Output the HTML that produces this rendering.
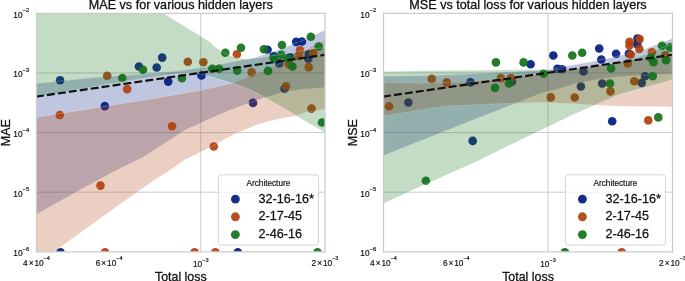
<!DOCTYPE html>
<html><head><meta charset="utf-8"><style>
html,body{margin:0;padding:0;background:#fff;}
svg{display:block;will-change:transform;}
text{font-family:"Liberation Sans",sans-serif;stroke:#111;stroke-width:0.28px;}
.sm,.sm text{stroke-width:0.18px;}
</style></head><body>
<svg width="685" height="281" viewBox="0 0 685 281" font-family="Liberation Sans, sans-serif" fill="#111111">
<rect width="685" height="281" fill="#ffffff"/>
<clipPath id="cl"><rect x="36.5" y="13.3" width="288.5" height="238.5"/></clipPath>
<g stroke="#cccccc" stroke-width="1"><line x1="36.5" x2="325.0" y1="72.92" y2="72.92"/><line x1="36.5" x2="325.0" y1="132.55" y2="132.55"/><line x1="36.5" x2="325.0" y1="192.18" y2="192.18"/><line x1="200.75" x2="200.75" y1="13.3" y2="251.8"/></g>
<g clip-path="url(#cl)">
<g fill="rgb(0,28,127)" fill-opacity="0.92"><circle cx="60.1" cy="80.2" r="4.3"/><circle cx="138.9" cy="66.5" r="4.3"/><circle cx="156.7" cy="67.5" r="4.3"/><circle cx="162.2" cy="57.6" r="4.3"/><circle cx="168.2" cy="81.6" r="4.3"/><circle cx="201.5" cy="75.5" r="4.3"/><circle cx="104.8" cy="106.1" r="4.3"/><circle cx="253.0" cy="102.9" r="4.3"/><circle cx="284.6" cy="88.7" r="4.3"/><circle cx="267.6" cy="49.7" r="4.3"/><circle cx="273.8" cy="56.2" r="4.3"/><circle cx="279.2" cy="63.4" r="4.3"/><circle cx="290.0" cy="57.4" r="4.3"/><circle cx="296.2" cy="41.9" r="4.3"/><circle cx="301.9" cy="41.5" r="4.3"/><circle cx="308.7" cy="54.3" r="4.3"/><circle cx="308.3" cy="58.7" r="4.3"/><circle cx="60.5" cy="252.4" r="4.3"/><circle cx="237.8" cy="252.4" r="4.3"/></g>
<polygon points="30.5,84.0 36.5,83.4 95.0,77.6 127.0,75.3 155.0,73.1 180.0,70.8 210.0,66.5 230.0,62.5 255.0,57.5 275.0,51.0 294.0,43.8 305.0,39.6 325.0,30.0 331.0,27.1 331.0,86.9 325.0,87.4 305.0,89.0 286.0,91.6 264.7,97.4 227.3,111.0 184.9,130.0 165.0,143.0 142.2,157.4 112.3,172.3 79.9,190.0 36.5,214.3 30.5,217.7" fill="rgb(0,28,127)" stroke="#ffffff" stroke-width="1.00" stroke-linejoin="round" fill-opacity="0.250" stroke-opacity="0.250"/>
<g fill="rgb(177,64,13)" fill-opacity="0.92"><circle cx="59.8" cy="115.0" r="4.3"/><circle cx="107.2" cy="75.7" r="4.3"/><circle cx="127.2" cy="89.1" r="4.3"/><circle cx="187.8" cy="61.7" r="4.3"/><circle cx="203.4" cy="62.2" r="4.3"/><circle cx="236.9" cy="54.2" r="4.3"/><circle cx="251.6" cy="72.4" r="4.3"/><circle cx="300.0" cy="50.2" r="4.3"/><circle cx="288.8" cy="64.3" r="4.3"/><circle cx="298.7" cy="55.9" r="4.3"/><circle cx="313.1" cy="53.4" r="4.3"/><circle cx="308.7" cy="67.1" r="4.3"/><circle cx="172.1" cy="126.2" r="4.3"/><circle cx="100.5" cy="185.6" r="4.3"/><circle cx="213.8" cy="146.5" r="4.3"/><circle cx="285.9" cy="86.2" r="4.3"/><circle cx="311.5" cy="108.6" r="4.3"/><circle cx="105.1" cy="252.4" r="4.3"/><circle cx="194.6" cy="252.4" r="4.3"/><circle cx="215.3" cy="252.4" r="4.3"/></g>
<polygon points="30.0,118.1 36.0,117.2 84.0,109.7 150.0,99.0 200.0,90.5 231.9,83.1 265.0,70.0 290.0,59.0 313.5,45.0 324.4,40.0 330.4,37.2 330.4,107.8 324.4,109.0 319.5,110.0 304.6,112.5 294.6,116.2 279.6,118.7 259.7,123.7 234.8,133.7 209.9,147.4 184.5,159.9 167.1,172.3 154.3,180.0 100.0,218.5 54.3,251.6 36.0,265.0 30.0,269.4" fill="rgb(177,64,13)" stroke="#ffffff" stroke-width="1.00" stroke-linejoin="round" fill-opacity="0.250" stroke-opacity="0.250"/>
<g fill="rgb(18,113,28)" fill-opacity="0.92"><circle cx="122.3" cy="78.0" r="4.3"/><circle cx="143.0" cy="69.8" r="4.3"/><circle cx="181.9" cy="78.2" r="4.3"/><circle cx="212.3" cy="68.8" r="4.3"/><circle cx="219.0" cy="68.8" r="4.3"/><circle cx="225.3" cy="52.8" r="4.3"/><circle cx="241.0" cy="47.8" r="4.3"/><circle cx="237.2" cy="70.6" r="4.3"/><circle cx="263.9" cy="49.3" r="4.3"/><circle cx="281.9" cy="45.0" r="4.3"/><circle cx="310.8" cy="36.8" r="4.3"/><circle cx="318.7" cy="46.5" r="4.3"/><circle cx="273.8" cy="58.1" r="4.3"/><circle cx="281.3" cy="54.9" r="4.3"/><circle cx="288.2" cy="58.7" r="4.3"/><circle cx="292.5" cy="66.5" r="4.3"/><circle cx="268.0" cy="70.9" r="4.3"/><circle cx="322.0" cy="122.5" r="4.3"/><circle cx="317.5" cy="252.4" r="4.3"/></g>
<polygon points="30.5,-84.4 36.5,-80.0 163.0,13.0 200.3,35.9 210.0,42.2 216.4,48.0 226.0,53.9 236.7,58.1 247.4,59.2 260.0,57.6 290.0,53.0 313.5,48.5 325.0,47.8 331.0,47.4 331.0,135.8 325.0,132.4 305.0,121.0 287.1,110.0 264.7,97.4 250.0,89.4 231.9,83.1 210.0,76.4 200.0,73.8 190.0,72.8 175.0,74.3 150.0,77.4 100.0,85.4 45.0,96.0 36.5,96.3 30.5,96.5" fill="rgb(18,113,28)" stroke="#ffffff" stroke-width="1.00" stroke-linejoin="round" fill-opacity="0.250" stroke-opacity="0.250"/>
<line x1="36.0" y1="96.67" x2="325.0" y2="54.80" stroke="#111111" stroke-width="2.2" stroke-dasharray="7.95 3.1" />
</g>
<g stroke="#cccccc" stroke-width="1.25" stroke-linecap="square"><line x1="36.50" y1="13.30" x2="325.00" y2="13.30"/><line x1="36.50" y1="251.80" x2="325.00" y2="251.80"/><line x1="36.50" y1="13.30" x2="36.50" y2="251.80"/><line x1="325.00" y1="13.30" x2="325.00" y2="251.80"/></g>
<clipPath id="cr"><rect x="383.5" y="13.3" width="289.0" height="238.5"/></clipPath>
<g stroke="#cccccc" stroke-width="1"><line x1="383.5" x2="672.5" y1="72.92" y2="72.92"/><line x1="383.5" x2="672.5" y1="132.55" y2="132.55"/><line x1="383.5" x2="672.5" y1="192.18" y2="192.18"/><line x1="548.03" x2="548.03" y1="13.3" y2="251.8"/></g>
<g clip-path="url(#cr)">
<g fill="rgb(0,28,127)" fill-opacity="0.92"><circle cx="408.4" cy="102.5" r="4.3"/><circle cx="470.5" cy="82.4" r="4.3"/><circle cx="511.9" cy="81.6" r="4.3"/><circle cx="530.6" cy="64.2" r="4.3"/><circle cx="553.3" cy="55.5" r="4.3"/><circle cx="557.4" cy="68.8" r="4.3"/><circle cx="562.2" cy="69.3" r="4.3"/><circle cx="583.5" cy="71.4" r="4.3"/><circle cx="580.9" cy="86.5" r="4.3"/><circle cx="599.2" cy="48.5" r="4.3"/><circle cx="601.3" cy="59.5" r="4.3"/><circle cx="602.2" cy="83.5" r="4.3"/><circle cx="616.1" cy="53.8" r="4.3"/><circle cx="628.9" cy="53.5" r="4.3"/><circle cx="637.5" cy="38.6" r="4.3"/><circle cx="637.2" cy="44.2" r="4.3"/><circle cx="641.7" cy="82.9" r="4.3"/><circle cx="645.1" cy="76.2" r="4.3"/><circle cx="472.7" cy="140.9" r="4.3"/><circle cx="612.2" cy="121.2" r="4.3"/></g>
<polygon points="377.5,76.4 383.5,76.3 420.0,75.8 460.0,74.6 500.0,72.3 530.0,71.0 548.0,70.2 563.0,66.7 590.0,62.0 615.0,56.9 645.0,49.0 672.5,38.4 678.5,36.1 678.0,73.4 672.0,73.7 620.0,76.6 593.3,80.1 575.6,83.7 557.8,89.0 540.0,93.4 517.6,102.4 472.7,120.0 383.5,155.6 377.5,158.0" fill="rgb(0,28,127)" stroke="#ffffff" stroke-width="1.00" stroke-linejoin="round" fill-opacity="0.250" stroke-opacity="0.250"/>
<g fill="rgb(177,64,13)" fill-opacity="0.92"><circle cx="389.0" cy="106.2" r="4.3"/><circle cx="431.7" cy="78.9" r="4.3"/><circle cx="446.7" cy="82.4" r="4.3"/><circle cx="500.8" cy="78.1" r="4.3"/><circle cx="510.8" cy="78.1" r="4.3"/><circle cx="550.7" cy="97.4" r="4.3"/><circle cx="574.7" cy="97.5" r="4.3"/><circle cx="610.4" cy="91.4" r="4.3"/><circle cx="627.7" cy="63.4" r="4.3"/><circle cx="630.8" cy="54.6" r="4.3"/><circle cx="629.5" cy="41.8" r="4.3"/><circle cx="629.5" cy="45.5" r="4.3"/><circle cx="639.6" cy="39.1" r="4.3"/><circle cx="639.3" cy="49.0" r="4.3"/><circle cx="651.9" cy="52.2" r="4.3"/><circle cx="665.2" cy="55.4" r="4.3"/><circle cx="634.3" cy="81.3" r="4.3"/><circle cx="648.3" cy="120.4" r="4.3"/><circle cx="621.7" cy="252.4" r="4.3"/></g>
<polygon points="377.5,82.1 383.5,82.3 420.0,83.3 460.0,82.0 490.0,79.5 520.0,76.5 548.0,73.2 580.0,67.6 600.0,64.7 620.0,61.8 640.0,58.9 660.0,56.0 672.0,54.3 678.0,53.4 678.0,106.8 672.0,106.7 620.0,106.2 593.3,105.0 575.6,103.8 540.0,102.3 502.6,103.6 445.3,106.1 383.5,116.1 377.5,117.1" fill="rgb(177,64,13)" stroke="#ffffff" stroke-width="1.00" stroke-linejoin="round" fill-opacity="0.250" stroke-opacity="0.250"/>
<g fill="rgb(18,113,28)" fill-opacity="0.92"><circle cx="425.9" cy="180.8" r="4.3"/><circle cx="495.9" cy="62.4" r="4.3"/><circle cx="495.0" cy="87.9" r="4.3"/><circle cx="508.9" cy="83.4" r="4.3"/><circle cx="523.6" cy="62.4" r="4.3"/><circle cx="543.6" cy="73.8" r="4.3"/><circle cx="572.3" cy="55.5" r="4.3"/><circle cx="582.2" cy="52.8" r="4.3"/><circle cx="611.1" cy="68.5" r="4.3"/><circle cx="610.0" cy="83.5" r="4.3"/><circle cx="650.8" cy="57.8" r="4.3"/><circle cx="653.5" cy="62.1" r="4.3"/><circle cx="662.0" cy="45.8" r="4.3"/><circle cx="670.0" cy="47.4" r="4.3"/><circle cx="666.0" cy="60.2" r="4.3"/><circle cx="652.7" cy="76.2" r="4.3"/><circle cx="658.3" cy="117.4" r="4.3"/><circle cx="564.9" cy="252.4" r="4.3"/></g>
<polygon points="377.5,71.7 383.5,71.6 420.0,70.8 470.0,70.3 500.0,69.9 540.0,69.4 556.0,69.6 570.0,69.6 585.0,67.6 600.0,65.3 615.0,62.8 630.0,59.3 645.0,54.4 660.0,48.6 672.5,44.0 678.5,41.8 678.0,78.5 672.0,80.1 620.0,94.3 595.1,105.0 572.3,115.0 548.0,126.7 510.0,144.9 477.7,161.1 421.6,186.0 383.5,203.4 377.5,206.1" fill="rgb(18,113,28)" stroke="#ffffff" stroke-width="1.00" stroke-linejoin="round" fill-opacity="0.250" stroke-opacity="0.250"/>
<line x1="383.0" y1="96.67" x2="672.5" y2="54.72" stroke="#111111" stroke-width="2.2" stroke-dasharray="7.95 3.1" />
</g>
<g stroke="#cccccc" stroke-width="1.25" stroke-linecap="square"><line x1="383.50" y1="13.30" x2="672.50" y2="13.30"/><line x1="383.50" y1="251.80" x2="672.50" y2="251.80"/><line x1="383.50" y1="13.30" x2="383.50" y2="251.80"/><line x1="672.50" y1="13.30" x2="672.50" y2="251.80"/></g>
<g fill="#111111" class="sm">
<text x="29.2" y="17.8" font-size="8.3" text-anchor="end">10<tspan dy="-5.4" font-size="5.8">−2</tspan></text>
<text x="29.2" y="77.4" font-size="8.3" text-anchor="end">10<tspan dy="-5.4" font-size="5.8">−3</tspan></text>
<text x="29.2" y="137.1" font-size="8.3" text-anchor="end">10<tspan dy="-5.4" font-size="5.8">−4</tspan></text>
<text x="29.2" y="196.7" font-size="8.3" text-anchor="end">10<tspan dy="-5.4" font-size="5.8">−5</tspan></text>
<text x="29.2" y="256.3" font-size="8.3" text-anchor="end">10<tspan dy="-5.4" font-size="5.8">−6</tspan></text>
<text x="36.5" y="265.8" font-size="8.3" text-anchor="middle">4<tspan dx="0.9">×</tspan><tspan dx="0.9">10</tspan><tspan dy="-5.9" font-size="5.5">−4</tspan></text>
<text x="109.2" y="265.8" font-size="8.3" text-anchor="middle">6<tspan dx="0.9">×</tspan><tspan dx="0.9">10</tspan><tspan dy="-5.9" font-size="5.5">−4</tspan></text>
<text x="200.7" y="267.1" font-size="8.3" text-anchor="middle">10<tspan dy="-5.6" font-size="5.5">−3</tspan></text>
<text x="325.0" y="265.8" font-size="8.3" text-anchor="middle">2<tspan dx="0.9">×</tspan><tspan dx="0.9">10</tspan><tspan dy="-5.9" font-size="5.5">−3</tspan></text>
<text x="376.2" y="17.8" font-size="8.3" text-anchor="end">10<tspan dy="-5.4" font-size="5.8">−2</tspan></text>
<text x="376.2" y="77.4" font-size="8.3" text-anchor="end">10<tspan dy="-5.4" font-size="5.8">−3</tspan></text>
<text x="376.2" y="137.1" font-size="8.3" text-anchor="end">10<tspan dy="-5.4" font-size="5.8">−4</tspan></text>
<text x="376.2" y="196.7" font-size="8.3" text-anchor="end">10<tspan dy="-5.4" font-size="5.8">−5</tspan></text>
<text x="376.2" y="256.3" font-size="8.3" text-anchor="end">10<tspan dy="-5.4" font-size="5.8">−6</tspan></text>
<text x="383.5" y="265.8" font-size="8.3" text-anchor="middle">4<tspan dx="0.9">×</tspan><tspan dx="0.9">10</tspan><tspan dy="-5.9" font-size="5.5">−4</tspan></text>
<text x="456.3" y="265.8" font-size="8.3" text-anchor="middle">6<tspan dx="0.9">×</tspan><tspan dx="0.9">10</tspan><tspan dy="-5.9" font-size="5.5">−4</tspan></text>
<text x="548.0" y="267.1" font-size="8.3" text-anchor="middle">10<tspan dy="-5.6" font-size="5.5">−3</tspan></text>
<text x="672.5" y="265.8" font-size="8.3" text-anchor="middle">2<tspan dx="0.9">×</tspan><tspan dx="0.9">10</tspan><tspan dy="-5.9" font-size="5.5">−3</tspan></text>
</g>
<rect x="218.4" y="174.8" width="100.1" height="70.3" rx="2.5" fill="#ffffff" fill-opacity="0.8" stroke="#cccccc" stroke-width="0.8"/>
<text x="268.4" y="186" font-size="8.2" text-anchor="middle" class="sm">Architecture</text>
<circle cx="235.4" cy="199.1" r="4.45" fill="rgb(0,28,127)" fill-opacity="0.92"/>
<text x="258.5" y="202.6" font-size="12.6">32-16-16*</text>
<circle cx="235.4" cy="216.8" r="4.45" fill="rgb(177,64,13)" fill-opacity="0.92"/>
<text x="258.5" y="220.3" font-size="12.6">2-17-45</text>
<circle cx="235.4" cy="234.6" r="4.45" fill="rgb(18,113,28)" fill-opacity="0.92"/>
<text x="258.5" y="238.1" font-size="12.6">2-46-16</text>
<rect x="565.4" y="174.8" width="100.1" height="70.3" rx="2.5" fill="#ffffff" fill-opacity="0.8" stroke="#cccccc" stroke-width="0.8"/>
<text x="615.4" y="186" font-size="8.2" text-anchor="middle" class="sm">Architecture</text>
<circle cx="582.4" cy="199.1" r="4.45" fill="rgb(0,28,127)" fill-opacity="0.92"/>
<text x="605.5" y="202.6" font-size="12.6">32-16-16*</text>
<circle cx="582.4" cy="216.8" r="4.45" fill="rgb(177,64,13)" fill-opacity="0.92"/>
<text x="605.5" y="220.3" font-size="12.6">2-17-45</text>
<circle cx="582.4" cy="234.6" r="4.45" fill="rgb(18,113,28)" fill-opacity="0.92"/>
<text x="605.5" y="238.1" font-size="12.6">2-46-16</text>
<text x="180.8" y="9.1" font-size="12.6" text-anchor="middle" fill="#111111">MAE vs for various hidden layers</text>
<text x="528.0" y="9.1" font-size="12.6" text-anchor="middle" fill="#111111">MSE vs total loss for various hidden layers</text>
<text x="180.8" y="281.0" font-size="12.4" text-anchor="middle" fill="#111111">Total loss</text>
<text x="528.0" y="281.0" font-size="12.4" text-anchor="middle" fill="#111111">Total loss</text>
<text transform="translate(9.6,132.6) rotate(-90)" font-size="12.5" text-anchor="middle" fill="#111111">MAE</text>
<text transform="translate(356.5,132.6) rotate(-90)" font-size="12.5" text-anchor="middle" fill="#111111">MSE</text>
</svg>
</body></html>
